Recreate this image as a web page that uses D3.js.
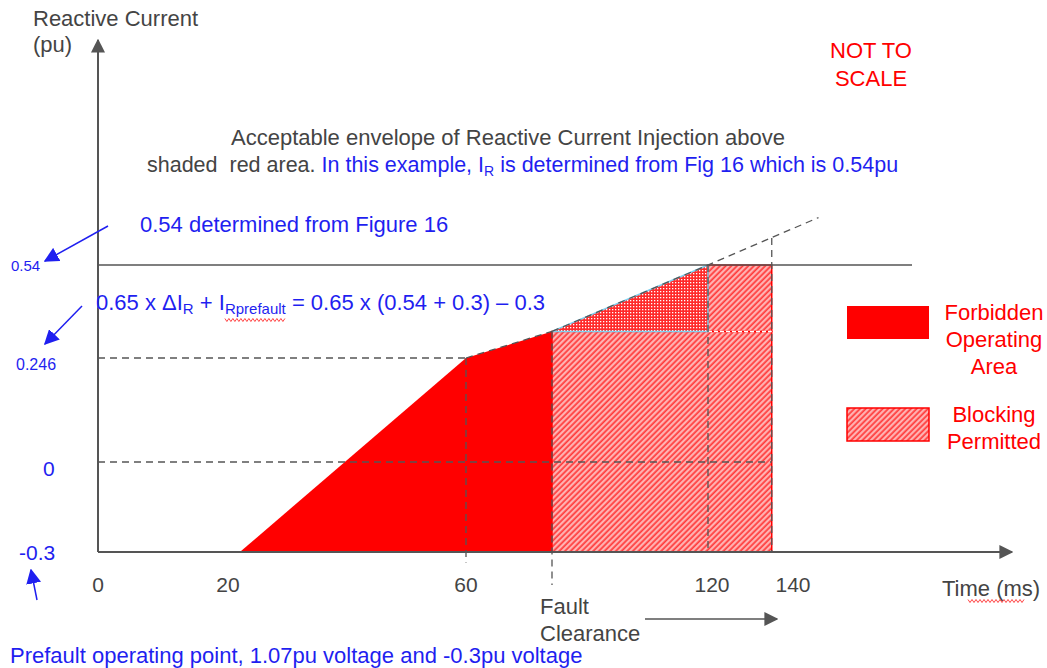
<!DOCTYPE html>
<html>
<head>
  <meta charset="utf-8">
  <title>Reactive Current Injection envelope</title>
  <script src="https://cdn.jsdelivr.net/npm/d3@7"></script>
  <style>
    body { margin: 0; background: #fff; }
    text { font-family: "Liberation Sans", Arial, sans-serif; }
  </style>
</head>
<body>
<svg id="chart" width="1047" height="668"></svg>
<script>
// ---- data (not to scale, so scales are piecewise) ----
var timeTicks = [0, 20, 60, 120, 140];
var currentTicks = [-0.3, 0, 0.246, 0.54];
var currentTickLabels = ["-0.3", "0", "0.246", "0.54"];

// forbidden operating area (time ms, current pu)
var forbiddenT = [22, 60, 80, 80];
var forbiddenI = [-0.3, 0.246, 0.33, -0.3];

// envelope extension (dashed)
var envelopeT = [80, 120, 146];
var envelopeI = [0.33, 0.54, 0.69];

var faultClear = 80;      // ms
var blockEnd = 135;       // ms
var blockTopI = 0.54;
var clearI = 0.33;

// ---- scales ----
var x = d3.scaleLinear()
    .domain([0, 20, 60, 80, 120, 140])
    .range([98, 228, 466, 552, 708, 793]);
var y = d3.scaleLinear()
    .domain([-0.3, 0, 0.246, 0.54])
    .range([552, 462, 358, 265]);

var blue = "#1f1ff0", red = "#ff0000", grey = "#555", txt = "#444";
var fs = 22;

var svg = d3.select("#chart");
var defs = svg.append("defs");

// hatch pattern for "Blocking Permitted"
var hatch = defs.append("pattern")
    .attr("id", "hatch").attr("patternUnits", "userSpaceOnUse")
    .attr("width", 4).attr("height", 4)
    .attr("patternTransform", "rotate(45)");
hatch.append("rect").attr("width", 4).attr("height", 4).attr("fill", "#ffb8b8");
hatch.append("line").attr("x1", 1.2).attr("y1", 0).attr("x2", 1.2).attr("y2", 4)
    .attr("stroke", "#ff3a3a").attr("stroke-width", 1.8);

// dotted pattern for the triangle
var dots = defs.append("pattern")
    .attr("id", "dots").attr("patternUnits", "userSpaceOnUse")
    .attr("width", 3).attr("height", 3);
dots.append("rect").attr("width", 3).attr("height", 3).attr("fill", "#ff2a2a");
dots.append("rect").attr("width", 1.3).attr("height", 1.3).attr("fill", "#fff");

function marker(id, color, w) {
  defs.append("marker")
      .attr("id", id).attr("viewBox", "0 0 10 10")
      .attr("refX", 9).attr("refY", 5)
      .attr("markerWidth", w).attr("markerHeight", w)
      .attr("markerUnits", "userSpaceOnUse")
      .attr("orient", "auto")
    .append("path").attr("d", "M0,0 L10,5 L0,10 z").attr("fill", color);
}
marker("arrGrey", grey, 14);
marker("arrBlue", blue, 15);

var line = d3.line().x(function(d) { return x(d[0]); }).y(function(d) { return y(d[1]); });

// forbidden area
svg.append("path")
    .datum(forbiddenT.map(function(t, i) { return [t, forbiddenI[i]]; }))
    .attr("d", function(d) { return line(d) + "Z"; })
    .attr("fill", red);

// blocking permitted blocks
svg.append("rect")
    .attr("x", x(faultClear)).attr("y", y(clearI))
    .attr("width", x(blockEnd) - x(faultClear)).attr("height", y(-0.3) - y(clearI))
    .attr("fill", "url(#hatch)").attr("stroke", red).attr("stroke-width", 1.5);
svg.append("rect")
    .attr("x", x(120)).attr("y", y(blockTopI))
    .attr("width", x(blockEnd) - x(120)).attr("height", y(clearI) - y(blockTopI))
    .attr("fill", "url(#hatch)").attr("stroke", red).attr("stroke-width", 1.5);
svg.append("line")
    .attr("x1", x(120)).attr("x2", x(blockEnd)).attr("y1", y(clearI)).attr("y2", y(clearI))
    .attr("stroke", "#fff").attr("stroke-width", 1.5).attr("stroke-dasharray", "4,2");

// triangle under the envelope
svg.append("path")
    .datum([[faultClear, clearI], [120, 0.54], [120, clearI]])
    .attr("d", function(d) { return line(d) + "Z"; })
    .attr("fill", "url(#dots)").attr("stroke", "#7fd0ee").attr("stroke-width", 1.5);

// 0.54 horizontal line
svg.append("line")
    .attr("x1", x(0)).attr("x2", 912).attr("y1", y(0.54)).attr("y2", y(0.54))
    .attr("stroke", grey).attr("stroke-width", 1.5);

// dashed guides
var dash = "7,5";
function dline(t1, i1, t2, i2) {
  svg.append("line")
      .attr("x1", x(t1)).attr("y1", y(i1)).attr("x2", x(t2)).attr("y2", y(i2))
      .attr("stroke", "#555").attr("stroke-width", 1.3).attr("stroke-dasharray", dash);
}
dline(0, 0.246, 60, 0.246);
dline(0, 0, blockEnd, 0);
dline(60, 0.246, 60, -0.335);
dline(60, 0.246, faultClear, clearI);
dline(faultClear, clearI, faultClear, -0.41);
dline(120, 0.54, 120, -0.3);
dline(blockEnd, 0.625, blockEnd, -0.3);
svg.append("path")
    .datum(envelopeT.map(function(t, i) { return [t, envelopeI[i]]; }))
    .attr("d", line).attr("fill", "none")
    .attr("stroke", "#555").attr("stroke-width", 1.3).attr("stroke-dasharray", dash);

// axes
svg.append("line")
    .attr("x1", x(0)).attr("y1", y(-0.3)).attr("x2", x(0)).attr("y2", 40)
    .attr("stroke", grey).attr("stroke-width", 2).attr("marker-end", "url(#arrGrey)");
svg.append("line")
    .attr("x1", x(0)).attr("y1", y(-0.3)).attr("x2", 1012).attr("y2", y(-0.3))
    .attr("stroke", grey).attr("stroke-width", 2).attr("marker-end", "url(#arrGrey)");

// tick labels
var tickOffset = { 0: 0, 20: 0, 60: 0, 120: 4, 140: 0 };
svg.selectAll(".xt").data(timeTicks).enter().append("text")
    .attr("class", "xt")
    .attr("x", function(d) { return x(d) + tickOffset[d]; }).attr("y", 592)
    .attr("text-anchor", "middle").attr("font-size", 21).attr("fill", txt)
    .text(function(d) { return d; });

var ySize = { "-0.3": 21, "0": 21, "0.246": 16, "0.54": 15 };
var yPos = { "-0.3": [19, 560], "0": [43, 476], "0.246": [16, 370], "0.54": [11, 271] };
svg.selectAll(".yt").data(currentTicks).enter().append("text")
    .attr("class", "yt")
    .attr("x", function(d, i) { return yPos[currentTickLabels[i]][0]; })
    .attr("y", function(d, i) { return yPos[currentTickLabels[i]][1]; })
    .attr("font-size", function(d, i) { return ySize[currentTickLabels[i]]; })
    .attr("fill", blue)
    .text(function(d, i) { return currentTickLabels[i]; });

// axis titles
svg.append("text").attr("x", 33).attr("y", 26).attr("font-size", fs).attr("fill", txt).text("Reactive Current");
svg.append("text").attr("x", 33).attr("y", 52).attr("font-size", fs).attr("fill", txt).text("(pu)");
svg.append("text").attr("x", 942).attr("y", 596).attr("font-size", fs).attr("fill", txt).text("Time (ms)");
svg.append("text").attr("x", 540).attr("y", 614).attr("font-size", fs).attr("fill", txt).text("Fault");
svg.append("text").attr("x", 540).attr("y", 641).attr("font-size", fs).attr("fill", txt).text("Clearance");
svg.append("line").attr("x1", 645).attr("y1", 619).attr("x2", 777).attr("y2", 619)
    .attr("stroke", grey).attr("stroke-width", 1.5).attr("marker-end", "url(#arrGrey)");

// not to scale
svg.append("text").attr("x", 871).attr("y", 58).attr("text-anchor", "middle")
    .attr("font-size", fs).attr("fill", red).text("NOT TO");
svg.append("text").attr("x", 871).attr("y", 86).attr("text-anchor", "middle")
    .attr("font-size", fs).attr("fill", red).text("SCALE");

// annotation
svg.append("text").attr("x", 508).attr("y", 145).attr("text-anchor", "middle")
    .attr("font-size", fs).attr("fill", txt).text("Acceptable envelope of Reactive Current Injection above");
var ann = svg.append("text").attr("x", 147).attr("y", 172).attr("font-size", 21.5).attr("xml:space", "preserve");
ann.append("tspan").attr("fill", txt).text("shaded  red area. ");
ann.append("tspan").attr("fill", blue).text("In this example, I");
ann.append("tspan").attr("fill", blue).attr("font-size", 14).attr("dy", 4).text("R");
ann.append("tspan").attr("fill", blue).attr("dy", -4).text(" is determined from Fig 16 which is 0.54pu");

svg.append("text").attr("x", 140).attr("y", 232).attr("font-size", fs).attr("fill", blue)
    .text("0.54 determined from Figure 16");

var f = svg.append("text").attr("x", 96).attr("y", 310).attr("font-size", fs).attr("fill", blue);
f.append("tspan").text("0.65 x \u0394I");
f.append("tspan").attr("font-size", 15).attr("dy", 4).text("R");
f.append("tspan").attr("dy", -4).text(" + I");
f.append("tspan").attr("font-size", 15).attr("dy", 4).attr("id", "rpf").text("Rprefault");
f.append("tspan").attr("dy", -4).text(" = 0.65 x (0.54 + 0.3) \u2013 0.3");

// spell-check squiggles
function squiggle(x0, x1, yy) {
  var pts = [];
  for (var xx = x0, k = 0; xx <= x1; xx += 2, k++) pts.push([xx, yy + (k % 2 ? 1.5 : -1.5)]);
  svg.append("path").attr("d", d3.line()(pts)).attr("fill", "none")
      .attr("stroke", "#ff3030").attr("stroke-width", 0.9);
}
var rb = document.getElementById("rpf").getBBox();
squiggle(rb.x, rb.x + rb.width, 320);
var tb = { x0: 942 + 0, x1: 0 };
squiggle(968, 1024, 601);

// blue pointer arrows
function barrow(x1, y1, x2, y2) {
  svg.append("line").attr("x1", x1).attr("y1", y1).attr("x2", x2).attr("y2", y2)
      .attr("stroke", blue).attr("stroke-width", 1.5).attr("marker-end", "url(#arrBlue)");
}
barrow(108, 226, 45, 261);
barrow(82, 306, 45, 344);
barrow(37, 600, 31, 570);

svg.append("text").attr("x", 10).attr("y", 663).attr("font-size", fs).attr("fill", blue)
    .text("Prefault operating point, 1.07pu voltage and -0.3pu voltage");

// legend
svg.append("rect").attr("x", 847).attr("y", 306).attr("width", 82).attr("height", 33).attr("fill", red);
svg.append("rect").attr("x", 847).attr("y", 408).attr("width", 82).attr("height", 33)
    .attr("fill", "url(#hatch)").attr("stroke", red).attr("stroke-width", 1.5);
var legendLines = [["Forbidden", 320], ["Operating", 347], ["Area", 374], ["Blocking", 422], ["Permitted", 449]];
svg.selectAll(".lg").data(legendLines).enter().append("text")
    .attr("class", "lg")
    .attr("x", 994).attr("y", function(d) { return d[1]; })
    .attr("text-anchor", "middle").attr("font-size", fs).attr("fill", red)
    .text(function(d) { return d[0]; });
</script>
</body>
</html>
